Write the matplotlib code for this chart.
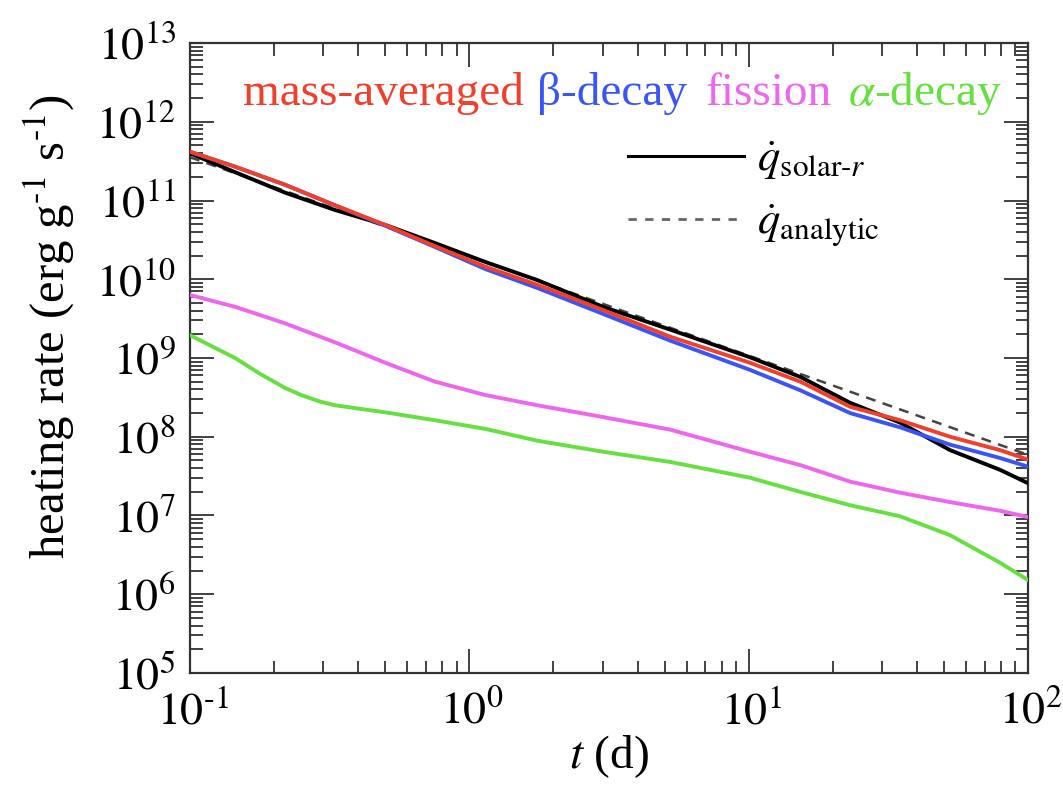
import numpy as np
import matplotlib.pyplot as plt
import matplotlib.transforms as mtrans
from matplotlib.lines import Line2D
from matplotlib.ticker import LogLocator, NullFormatter, FuncFormatter

plt.rcParams['font.family'] = ['Liberation Serif', 'STIXGeneral', 'DejaVu Serif']
plt.rcParams['mathtext.fontset'] = 'stix'

# --- heating rates, read as (t [d], log10 q [erg/g/s]) ---
t_grid = [0.1, 0.145, 0.219, 0.33, 0.5, 0.753, 1.14, 1.75, 3.01, 5.24,
          10.1, 15.3, 23.1, 34.8, 52.6, 79.4, 100.0]

logq_solar = [11.60, 11.36, 11.10, 10.88, 10.69, 10.46, 10.22, 9.99, 9.65, 9.36,
              9.01, 8.76, 8.43, 8.18, 7.83, 7.58, 7.41]
logq_mass = [11.62, 11.43, 11.20, 10.94, 10.69, 10.42, 10.16, 9.93, 9.61, 9.27,
             8.94, 8.70, 8.38, 8.21, 8.00, 7.83, 7.71]
logq_beta = [11.62, 11.43, 11.20, 10.94, 10.68, 10.41, 10.13, 9.89, 9.56, 9.22,
             8.85, 8.59, 8.30, 8.12, 7.90, 7.73, 7.62]
logq_fission = [9.80, 9.65, 9.44, 9.20, 8.94, 8.70, 8.53, 8.40, 8.25, 8.09,
                7.81, 7.64, 7.43, 7.29, 7.17, 7.06, 6.98]

t_alpha = [0.1, 0.145, 0.178, 0.219, 0.25, 0.29, 0.33, 0.5, 0.753, 1.14, 1.75,
           3.01, 5.24, 10.1, 15.3, 23.1, 34.8, 52.6, 79.4, 100.0]
logq_alpha = [9.29, 9.00, 8.80, 8.62, 8.53, 8.45, 8.40, 8.31, 8.21, 8.10, 7.95,
              7.81, 7.68, 7.48, 7.30, 7.13, 6.99, 6.75, 6.40, 6.18]

t_analytic = [0.1, 1.0, 10.0, 100.0]
logq_analytic = [11.55, 10.29, 9.03, 7.77]

# header labels and their colours
header_text = ['mass-averaged', 'β-decay', 'fission', r'$\alpha$-decay']
header_color = ['#f0402c', '#3a55f5', '#ee66ee', '#66e040']
header_x = [0.063, 0.414, 0.615, 0.785]


def pow10(val, pos):
    # exponent with a plain hyphen, e.g. 10^-1
    return r'$10^{\text{%d}}$' % int(round(np.log10(val)))


fig, ax = plt.subplots(figsize=(10.63, 7.85), dpi=100)
fig.subplots_adjust(left=0.1787, right=0.9671, top=0.9452, bottom=0.1427)

ax.plot(t_analytic, 10**np.array(logq_analytic), color='#444444', lw=1.8,
        dashes=(4, 3), zorder=2)
ax.plot(t_grid, 10**np.array(logq_solar), color='black', lw=2.8, zorder=3)
ax.plot(t_grid, 10**np.array(logq_fission), color=header_color[2], lw=2.8, zorder=3)
ax.plot(t_alpha, 10**np.array(logq_alpha), color=header_color[3], lw=2.8, zorder=3)
ax.plot(t_grid, 10**np.array(logq_beta), color=header_color[1], lw=2.8, zorder=4)
ax.plot(t_grid, 10**np.array(logq_mass), color=header_color[0], lw=2.8, zorder=5)

ax.set_xscale('log'); ax.set_yscale('log')
ax.set_xlim(0.1, 100); ax.set_ylim(1e5, 1e13)

ax.xaxis.set_major_locator(LogLocator(base=10, numticks=20))
ax.yaxis.set_major_locator(LogLocator(base=10, numticks=20))
for axis in (ax.xaxis, ax.yaxis):
    axis.set_major_formatter(FuncFormatter(pow10))
    axis.set_minor_locator(LogLocator(base=10, subs=np.arange(2, 10), numticks=100))
    axis.set_minor_formatter(NullFormatter())

ax.tick_params(which='both', direction='in', top=True, right=True, width=1.3,
               labelsize=33, color='#333333')
ax.tick_params(which='major', length=17)
ax.tick_params(which='minor', length=9)
ax.tick_params(axis='x', which='major', pad=13)
ax.tick_params(axis='y', which='major', pad=10)
for sp in ax.spines.values():
    sp.set_linewidth(1.6)
    sp.set_color('#333333')

# nudge the x labels a little right so the "10" sits under its tick
shift = mtrans.ScaledTranslation(0.03, 0, fig.dpi_scale_trans)
for lab in ax.get_xticklabels():
    lab.set_transform(lab.get_transform() + shift)

ax.set_xlabel(r'$t$ (d)', fontsize=34)
ax.set_ylabel(r'heating rate (erg g$^{\text{-1}}$ s$^{\text{-1}}$)', fontsize=35)
ax.xaxis.set_label_coords(0.5, -0.095)
ax.yaxis.set_label_coords(-0.135, 0.55)

for txt, col, x in zip(header_text, header_color, header_x):
    ax.text(x, 0.902, txt, color=col, fontsize=34, transform=ax.transAxes,
            ha='left', va='baseline')

handles = [Line2D([], [], color='black', lw=2.2),
           Line2D([], [], color='#666666', lw=2.0, dashes=(3, 3))]
labels = [r'$\dot{q}_{\mathrm{solar}\text{-}r}$', r'$\dot{q}_{\mathrm{analytic}}$']
ax.legend(handles, labels, loc='upper left', bbox_to_anchor=(0.475, 0.91),
          frameon=False, fontsize=32, handlelength=2.6, handletextpad=0.3,
          labelspacing=0.45)

fig.savefig('out.png', dpi=100)
